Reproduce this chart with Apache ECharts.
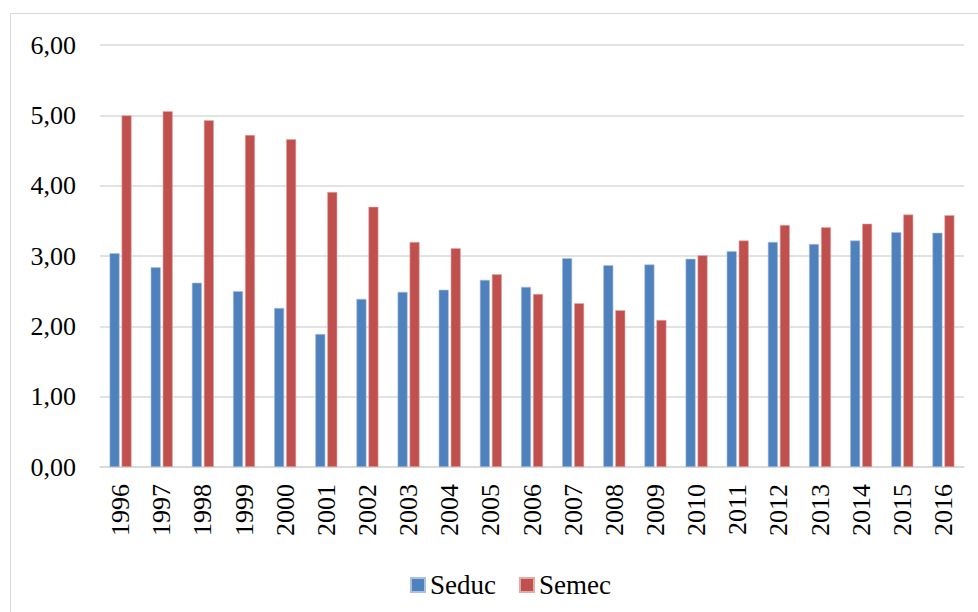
<!DOCTYPE html>
<html><head><meta charset="utf-8">
<script src="https://cdn.jsdelivr.net/npm/echarts@6/dist/echarts.min.js"></script>
<style>html,body{margin:0;padding:0;background:#fff}#c{width:978px;height:612px}</style>
</head><body><div id="c"></div>
<script>
const categories = ['1996','1997','1998','1999','2000','2001','2002','2003','2004','2005','2006','2007','2008','2009','2010','2011','2012','2013','2014','2015','2016'];
const seduc = [3.04,2.84,2.62,2.50,2.26,1.89,2.39,2.49,2.52,2.66,2.56,2.97,2.87,2.88,2.96,3.07,3.20,3.17,3.22,3.34,3.33];
const semec = [5.00,5.06,4.93,4.72,4.66,3.91,3.70,3.20,3.11,2.74,2.46,2.33,2.23,2.09,3.01,3.22,3.44,3.41,3.46,3.59,3.58];
const yTicks = {min:0, max:6, interval:1};

const chart = echarts.init(document.getElementById('c'), null, {renderer:'svg'});
const font = '"Liberation Serif", "Times New Roman", serif';
chart.setOption({
  animation:false,
  textStyle:{fontFamily:font},
  graphic:[{type:'rect',shape:{x:10.5,y:13.5,width:980,height:620},style:{fill:'none',stroke:'#d9d9d9',lineWidth:1}}],
  grid:{left:100,right:14,top:45,bottom:145},
  legend:{top:566,left:405,itemWidth:14,itemHeight:14,itemGap:23,icon:'rect',
    textStyle:{fontFamily:font,fontSize:27,color:'#000',lineHeight:28},data:['Seduc','Semec']},
  xAxis:{type:'category',data:categories,
    axisLine:{lineStyle:{color:'#d9d9d9',width:1.5}},axisTick:{show:false},
    axisLabel:{rotate:90,fontSize:26,color:'#000',fontFamily:font,margin:17}},
  yAxis:{type:'value',min:yTicks.min,max:yTicks.max,interval:yTicks.interval,
    axisLabel:{formatter:v=>v.toFixed(2).replace('.',','),fontSize:26,color:'#000',fontFamily:font,margin:24},
    splitLine:{lineStyle:{color:'#d9d9d9',width:1.5}},axisLine:{show:false},axisTick:{show:false}},
  series:[
    {name:'Seduc',type:'bar',data:seduc,barWidth:10,barGap:'20%',
      itemStyle:{color:'#4F81BD',borderColor:'#a9c0e0',borderWidth:0.6}},
    {name:'Semec',type:'bar',data:semec,barWidth:10,
      itemStyle:{color:'#C0504D',borderColor:'#e3aaa8',borderWidth:0.6}}
  ]
});
</script></body></html>
